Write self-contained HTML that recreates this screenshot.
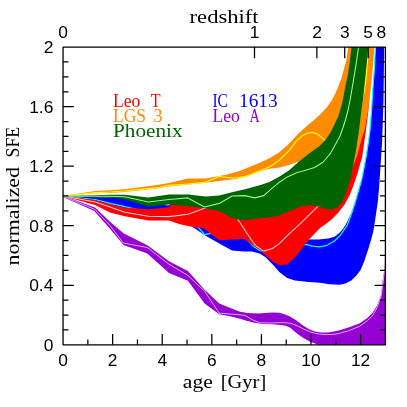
<!DOCTYPE html>
<html><head><meta charset="utf-8"><title>normalized SFE vs age</title>
<style>
html,body{margin:0;padding:0;background:#fff;}
body{width:407px;height:407px;overflow:hidden;font-family:"Liberation Serif",serif;}
svg{display:block;will-change:transform;}
</style></head>
<body>
<svg width="407" height="407" viewBox="0 0 407 407">
<rect width="407" height="407" fill="#fff"/>
<defs><clipPath id="c"><rect x="63.05" y="47.1" width="322.34999999999997" height="297.7"/></clipPath></defs>
<g clip-path="url(#c)">
<polygon points="63.0,195.4 95.3,207.7 110.0,221.8 123.8,233.4 147.3,245.2 169.0,261.3 187.9,271.0 204.6,289.7 219.3,303.4 231.0,308.3 240.0,311.7 247.4,313.0 258.4,313.6 271.9,312.4 279.3,312.7 285.3,314.6 289.9,316.4 296.1,320.3 303.4,325.8 309.6,329.5 315.7,331.7 321.9,332.6 328.0,332.6 335.0,331.3 339.5,330.2 348.5,327.4 359.3,323.4 367.4,318.0 372.8,312.6 376.9,305.8 379.6,299.1 381.0,295.0 382.6,281.1 384.4,269.3 385.6,255.6 385.8,345.0 319.0,345.0 314.5,343.3 309.6,341.5 303.4,338.1 297.3,333.8 289.9,327.6 285.5,325.8 280.5,325.0 271.9,324.3 262.1,324.0 254.7,322.8 247.4,321.0 240.0,318.7 231.0,316.4 219.3,314.2 204.6,303.4 187.9,280.8 169.0,273.0 147.3,253.4 123.5,245.1 110.0,228.8 94.3,210.9 63.0,197.0" fill="#9400d3"/>
<polyline points="63.0,196.2 94.8,209.4 110.0,225.5 123.3,243.1 147.3,247.5 169.0,264.2 187.9,275.5 204.6,291.2 219.3,313.2 240.0,314.8 244.9,315.4 252.3,319.7 259.7,322.8 271.9,323.0 280.5,322.6 286.0,322.8 291.1,323.4 297.3,325.8 303.4,328.9 309.6,331.7 315.7,333.4 321.9,334.4 328.0,334.6 335.0,334.2 339.5,333.3 348.5,330.8 359.3,326.4 367.4,320.7 372.8,315.3 376.9,307.8 379.6,300.6 381.0,296.6 382.8,284.0 384.5,271.0 385.4,259.0" fill="none" stroke="#e4bcf0" stroke-width="0.9" stroke-linejoin="round"/>
<polygon points="63.0,196.0 124.0,198.0 148.0,202.0 160.0,204.3 168.3,205.5 173.0,203.0 219.0,225.0 244.0,234.0 260.0,238.0 290.0,239.0 309.0,239.6 318.4,239.5 328.3,238.5 334.4,236.7 339.3,233.0 343.0,228.7 345.5,225.0 348.5,219.0 351.7,212.0 355.4,201.0 358.7,190.0 361.6,180.0 364.2,167.0 366.5,154.6 368.4,142.0 370.0,130.0 371.6,110.0 372.8,90.0 374.3,69.5 375.5,47.0 384.2,47.0 383.5,100.0 382.2,140.0 380.5,166.5 378.9,190.0 377.8,201.8 375.8,215.6 373.6,230.0 371.6,237.9 368.7,247.7 364.2,261.4 360.6,270.0 356.4,275.4 351.3,280.4 345.4,283.4 339.5,284.7 329.7,284.3 319.8,282.8 308.8,281.9 295.0,280.5 287.2,278.0 279.3,272.1 273.4,265.2 265.6,257.3 259.7,253.4 251.8,251.4 243.9,251.4 232.0,250.5 219.3,243.6 205.6,235.7 192.8,226.9 188.0,222.0 169.0,216.0 148.0,214.0 124.0,210.0 63.0,196.0" fill="#0000ff"/>
<polyline points="63.0,196.0 95.0,199.5 110.0,203.3 124.7,206.7 148.0,212.0 169.0,214.0 188.0,220.0 198.7,227.9 204.6,234.7 210.5,233.4 219.0,232.0 232.0,230.0 244.0,236.0 247.9,240.6 253.7,246.5 259.7,250.5 265.0,252.0 273.0,250.0 290.0,246.0 305.8,244.4 312.3,246.1 319.7,246.9 327.0,245.3 334.4,241.0 340.5,234.8 344.8,228.7 347.3,225.0 351.9,212.5 355.6,201.0 358.7,190.0 361.6,180.0 364.2,167.0 366.5,154.6 368.4,142.0 370.0,130.0 371.6,110.0 372.8,90.0 374.3,69.5 375.5,47.0" fill="none" stroke="#00ffff" stroke-width="1.2" stroke-linejoin="round"/>
<polygon points="63.0,196.0 95.0,199.9 110.0,204.2 124.7,207.4 148.3,209.3 169.0,207.3 170.3,205.3 190.0,202.0 205.0,203.0 219.0,206.0 231.0,208.0 244.0,210.0 260.0,208.0 280.0,205.0 300.0,195.0 330.0,190.0 345.0,150.0 355.0,100.0 362.0,47.0 373.0,47.0 371.0,80.0 369.5,95.0 368.4,110.0 366.0,130.0 364.6,139.5 362.3,156.2 357.6,172.9 355.3,180.0 353.2,186.1 349.5,195.4 344.6,204.6 338.4,212.6 332.3,218.7 326.1,223.7 320.0,228.1 314.7,233.4 308.8,239.7 304.9,244.6 299.0,252.4 293.1,259.3 287.2,264.2 280.3,265.6 273.4,262.3 264.6,254.4 259.7,249.5 251.8,244.6 244.9,239.0 232.0,239.6 219.3,240.2 203.6,228.3 192.8,226.9 188.0,226.0 180.0,224.2 168.8,220.6 148.3,220.4 124.7,216.2 110.0,212.5 95.0,205.1 63.0,196.0" fill="#ff0000"/>
<polyline points="63.0,196.0 95.0,202.0 110.0,207.1 124.7,212.2 148.3,216.2 169.0,216.6 187.9,214.2 204.6,208.3 219.0,205.0 232.0,210.5 244.0,228.7 251.4,240.0 255.7,245.6 263.6,251.1 272.4,248.5 279.3,243.6 289.1,233.8 299.0,224.9 309.0,215.2 317.8,206.4 330.0,190.0 345.0,150.0 355.0,100.0 360.0,47.0" fill="none" stroke="#ffc8d2" stroke-width="1.1" stroke-linejoin="round"/>
<polygon points="63.0,196.0 95.0,191.1 110.0,190.3 124.0,189.3 148.0,186.3 160.0,184.4 169.0,183.0 187.8,178.4 205.6,178.4 219.3,175.9 227.3,174.5 239.6,171.0 251.9,166.1 259.7,162.8 269.5,158.2 279.3,152.3 289.1,143.6 299.2,132.8 307.3,125.6 313.4,120.4 319.6,115.0 326.9,107.3 331.9,99.9 334.6,95.0 338.0,87.0 341.4,78.5 346.4,59.7 348.3,47.0 374.5,47.0 373.0,65.6 370.6,90.0 368.2,110.0 366.4,119.8 364.7,130.0 362.1,137.5 357.2,155.2 352.8,167.0 346.0,189.0 340.0,190.0 320.0,175.0 297.0,162.1 289.1,165.0 279.6,167.4 271.0,168.6 262.4,170.5 254.3,173.7 245.7,176.5 235.9,179.0 227.3,180.0 219.3,181.0 205.6,182.7 188.4,184.6 169.0,186.6 160.0,188.0 148.0,189.4 124.0,191.9 110.0,192.9 95.0,193.3 63.0,196.0" fill="#ff8c00"/>
<polyline points="63.0,196.0 95.0,192.6 110.0,192.0 124.0,191.0 148.0,188.6 160.0,187.2 169.0,185.4 188.4,184.0 205.6,182.1 219.3,176.5 233.4,178.2 245.7,176.3 254.3,173.1 262.4,169.9 271.0,166.0 279.6,159.9 285.7,153.8 289.1,150.6 296.1,141.2 302.3,135.5 308.4,132.7 313.3,132.5 318.3,134.8 325.0,140.4 335.0,150.0 345.0,158.0 352.0,150.0 358.0,130.0 361.5,105.0 364.6,89.0 366.0,79.3 367.6,59.7 368.5,47.0" fill="none" stroke="#ffff00" stroke-width="1.15" stroke-linejoin="round"/>
<polygon points="63.0,196.0 95.0,195.2 110.0,194.8 124.7,194.8 148.3,197.5 169.0,194.6 187.9,194.6 205.6,196.5 219.3,195.6 233.0,192.0 244.9,189.3 259.8,185.3 269.5,182.0 279.6,176.6 289.1,170.3 299.0,161.6 308.8,153.7 319.5,145.9 325.6,139.7 330.5,132.4 334.2,125.0 338.0,117.1 340.5,109.1 342.3,102.4 343.8,95.0 345.4,86.0 348.1,73.4 350.0,59.7 351.5,47.0 368.0,47.0 367.0,59.7 365.0,79.3 363.1,99.0 361.5,110.0 359.1,129.7 356.2,149.3 352.5,169.0 350.1,180.0 348.9,183.7 345.8,193.5 342.1,202.1 337.2,207.6 332.3,209.5 326.1,208.9 318.8,206.6 309.0,205.0 299.1,207.0 289.3,211.3 279.5,215.6 269.7,217.2 259.8,218.2 250.0,219.4 244.7,220.3 237.9,219.6 231.8,217.7 225.0,214.0 219.3,210.9 204.6,208.3 190.0,206.4 180.0,205.4 169.0,204.4 148.3,206.4 124.7,199.2 110.0,197.8 95.0,197.3 63.0,196.0" fill="#006400"/>
<polyline points="63.0,196.0 95.0,196.3 110.0,196.3 124.7,196.8 148.3,202.0 169.0,199.5 187.9,197.9 204.6,207.0 219.3,203.4 232.0,196.0 244.9,195.6 254.9,197.9 263.8,195.6 271.6,188.7 279.5,182.2 287.3,176.9 297.2,172.5 302.3,171.3 314.6,167.5 323.2,162.0 330.5,153.3 336.7,142.2 340.0,136.0 343.0,127.5 345.6,119.5 348.1,110.0 350.3,99.0 353.6,79.3 356.2,63.6 358.6,47.0" fill="none" stroke="#98f098" stroke-width="1.1" stroke-linejoin="round"/>
</g>
<path d="M87.85,344.8v-5.4 M112.64,344.8v-10.8 M137.44,344.8v-5.4 M162.23,344.8v-10.8 M187.03,344.8v-5.4 M211.83,344.8v-10.8 M236.62,344.8v-5.4 M261.42,344.8v-10.8 M286.22,344.8v-5.4 M311.01,344.8v-10.8 M335.81,344.8v-5.4 M360.60,344.8v-10.8 M63.05,329.92h5.4 M385.4,329.92h-5.4 M63.05,315.03h5.4 M385.4,315.03h-5.4 M63.05,300.15h5.4 M385.4,300.15h-5.4 M63.05,285.26h10.8 M385.4,285.26h-10.8 M63.05,270.38h5.4 M385.4,270.38h-5.4 M63.05,255.49h5.4 M385.4,255.49h-5.4 M63.05,240.61h5.4 M385.4,240.61h-5.4 M63.05,225.72h10.8 M385.4,225.72h-10.8 M63.05,210.84h5.4 M385.4,210.84h-5.4 M63.05,195.95h5.4 M385.4,195.95h-5.4 M63.05,181.06h5.4 M385.4,181.06h-5.4 M63.05,166.18h10.8 M385.4,166.18h-10.8 M63.05,151.30h5.4 M385.4,151.30h-5.4 M63.05,136.41h5.4 M385.4,136.41h-5.4 M63.05,121.53h5.4 M385.4,121.53h-5.4 M63.05,106.64h10.8 M385.4,106.64h-10.8 M63.05,91.76h5.4 M385.4,91.76h-5.4 M63.05,76.87h5.4 M385.4,76.87h-5.4 M63.05,61.99h5.4 M385.4,61.99h-5.4 M254.5,47.1v11.100000000000001 M316.9,47.1v11.100000000000001 M344.7,47.1v11.100000000000001 M368.2,47.1v11.100000000000001 M381.4,47.1v11.100000000000001" stroke="#000" stroke-width="1.25" fill="none"/>
<rect x="63.05" y="47.1" width="322.34999999999997" height="297.7" fill="none" stroke="#000" stroke-width="1.3" stroke-linejoin="round"/>
<g fill="#000">
<text x="63.05" y="365.7" font-family="Liberation Sans, sans-serif" font-size="17.4" text-anchor="middle">0</text>
<text x="112.64230769230768" y="365.7" font-family="Liberation Sans, sans-serif" font-size="17.4" text-anchor="middle">2</text>
<text x="162.23461538461538" y="365.7" font-family="Liberation Sans, sans-serif" font-size="17.4" text-anchor="middle">4</text>
<text x="211.82692307692304" y="365.7" font-family="Liberation Sans, sans-serif" font-size="17.4" text-anchor="middle">6</text>
<text x="261.41923076923075" y="365.7" font-family="Liberation Sans, sans-serif" font-size="17.4" text-anchor="middle">8</text>
<text x="311.0115384615384" y="365.7" font-family="Liberation Sans, sans-serif" font-size="17.4" text-anchor="middle">10</text>
<text x="360.6038461538461" y="365.7" font-family="Liberation Sans, sans-serif" font-size="17.4" text-anchor="middle">12</text>
<text x="63.0" y="37.8" font-family="Liberation Sans, sans-serif" font-size="17.4" text-anchor="middle">0</text>
<text x="254.5" y="37.8" font-family="Liberation Sans, sans-serif" font-size="17.4" text-anchor="middle">1</text>
<text x="317.0" y="37.8" font-family="Liberation Sans, sans-serif" font-size="17.4" text-anchor="middle">2</text>
<text x="344.9" y="37.8" font-family="Liberation Sans, sans-serif" font-size="17.4" text-anchor="middle">3</text>
<text x="368.2" y="37.8" font-family="Liberation Sans, sans-serif" font-size="17.4" text-anchor="middle">5</text>
<text x="381.4" y="37.8" font-family="Liberation Sans, sans-serif" font-size="17.4" text-anchor="middle">8</text>
<text x="53.4" y="350.7" font-family="Liberation Sans, sans-serif" font-size="17.4" text-anchor="end">0</text>
<text x="53.4" y="291.15999999999997" font-family="Liberation Sans, sans-serif" font-size="17.4" text-anchor="end">0.4</text>
<text x="53.4" y="231.62000000000003" font-family="Liberation Sans, sans-serif" font-size="17.4" text-anchor="end">0.8</text>
<text x="53.4" y="172.08000000000004" font-family="Liberation Sans, sans-serif" font-size="17.4" text-anchor="end">1.2</text>
<text x="53.4" y="112.54000000000002" font-family="Liberation Sans, sans-serif" font-size="17.4" text-anchor="end">1.6</text>
<text x="53.4" y="53.00000000000002" font-family="Liberation Sans, sans-serif" font-size="17.4" text-anchor="end">2</text>
<text x="189.6" y="23.3" font-family="Liberation Serif, serif" font-size="18" fill="#000" textLength="69" lengthAdjust="spacingAndGlyphs">redshift</text>
<text x="182.8" y="387.5" font-family="Liberation Serif, serif" font-size="18" fill="#000" textLength="30" lengthAdjust="spacingAndGlyphs">age</text>
<text x="220.8" y="387.5" font-family="Liberation Serif, serif" font-size="18" fill="#000" textLength="45.4" lengthAdjust="spacingAndGlyphs">[Gyr]</text>
<text transform="translate(18.9,265.4) rotate(-90)" font-family="Liberation Serif, serif" font-size="18.4" textLength="98.4" lengthAdjust="spacingAndGlyphs">normalized</text>
<text transform="translate(18.9,157.4) rotate(-90)" font-family="Liberation Serif, serif" font-size="18" textLength="30.6" lengthAdjust="spacingAndGlyphs">SFE</text>
<text x="113.0" y="107.4" font-family="Liberation Serif, serif" font-size="18.6" fill="#ff0000" textLength="27.4" lengthAdjust="spacingAndGlyphs">Leo</text>
<text x="150.8" y="107.4" font-family="Liberation Serif, serif" font-size="18.6" fill="#ff0000" textLength="9.8" lengthAdjust="spacingAndGlyphs">T</text>
<text x="113.0" y="121.7" font-family="Liberation Serif, serif" font-size="18.6" fill="#ff8c00" textLength="33" lengthAdjust="spacingAndGlyphs">LGS</text>
<text x="153.4" y="121.7" font-family="Liberation Serif, serif" font-size="18.6" fill="#ff8c00" textLength="9" lengthAdjust="spacingAndGlyphs">3</text>
<text x="113.0" y="136.6" font-family="Liberation Serif, serif" font-size="18.6" fill="#006400" textLength="69.6" lengthAdjust="spacingAndGlyphs">Phoenix</text>
<text x="212.4" y="107.4" font-family="Liberation Serif, serif" font-size="18.6" fill="#0000ff" textLength="15.4" lengthAdjust="spacingAndGlyphs">IC</text>
<text x="239.0" y="107.4" font-family="Liberation Serif, serif" font-size="18.6" fill="#0000ff" textLength="38.6" lengthAdjust="spacingAndGlyphs">1613</text>
<text x="212.4" y="121.7" font-family="Liberation Serif, serif" font-size="18.6" fill="#9400d3" textLength="27.4" lengthAdjust="spacingAndGlyphs">Leo</text>
<text x="249.6" y="121.7" font-family="Liberation Serif, serif" font-size="18.6" fill="#9400d3" textLength="10.3" lengthAdjust="spacingAndGlyphs">A</text>
</g>
</svg>
</body></html>
